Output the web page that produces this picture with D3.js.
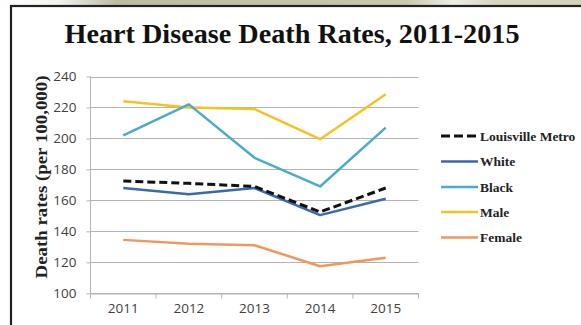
<!DOCTYPE html>
<html><head><meta charset="utf-8">
<script src="https://cdn.jsdelivr.net/npm/d3@7"></script>
<style>html,body{margin:0;padding:0;background:#fff;}svg{display:block;}</style>
</head><body>
<svg id="c" width="581" height="325"></svg>
<script>
const years = ["2011","2012","2013","2014","2015"];
const louisville = [172.5, 171, 169, 152.5, 168];
const white = [168, 164, 168, 150.5, 161];
const black = [202, 222, 187.5, 169, 207];
const male = [224, 220, 219, 199.5, 228.5];
const female = [134.5, 132, 131, 117.5, 123];
const yTicks = [100,120,140,160,180,200,220,240];
const seriesNames = ["Louisville Metro","White","Black","Male","Female"];
const seriesColors = ["#111111","#3a6aab","#4bacc6","#f5c21f","#f0985a"];
const seriesData = [louisville, white, black, male, female];

const svg = d3.select("#c");
const defs = svg.append("defs");
const g = defs.append("linearGradient").attr("id","bg");
g.append("stop").attr("offset","0").attr("stop-color","#ffffff");
g.append("stop").attr("offset","0.1").attr("stop-color","#f4f4ee");
g.append("stop").attr("offset","0.2").attr("stop-color","#bcbca4");
g.append("stop").attr("offset","0.7").attr("stop-color","#c9c8ae");
g.append("stop").attr("offset","0.78").attr("stop-color","#eeeee6");
g.append("stop").attr("offset","0.85").attr("stop-color","#d8d6c0");
g.append("stop").attr("offset","1").attr("stop-color","#d4d2bc");
svg.append("rect").attr("x",0).attr("y",0).attr("width",581).attr("height",6).attr("fill","url(#bg)");
svg.append("rect").attr("x",11).attr("y",6).attr("width",575).attr("height",330)
  .attr("fill","#fff").attr("stroke","#222").attr("stroke-width",2.2);

const x = d3.scaleBand().domain(years).range([90.5, 418.5]);
const y = d3.scaleLinear().domain([100,240]).range([293.3, 76.5]);

svg.append("g").selectAll("line").data(yTicks).join("line")
  .attr("x1",90.5).attr("x2",418.5)
  .attr("y1",d=>Math.round(y(d))+0.5).attr("y2",d=>Math.round(y(d))+0.5)
  .attr("stroke","#b4b4b4").attr("stroke-width",1);

const ya = svg.append("g").attr("transform","translate(90.5,0)")
  .call(d3.axisLeft(y).tickValues(yTicks).tickSize(4).tickPadding(10));
ya.select(".domain").attr("stroke","#b4b4b4").attr("d","M0,"+y(240)+"V"+y(100)+"H0");
ya.selectAll(".tick line").attr("stroke","#b4b4b4");
ya.selectAll("text").attr("font-family","Open Sans, sans-serif").attr("font-size",13.5).attr("fill","#404040");

const xa = svg.append("g").attr("transform","translate(0,"+(Math.round(y(100))+0.5)+")")
  .call(d3.axisBottom(x).tickSize(0).tickPadding(10));
xa.select(".domain").attr("stroke","#b4b4b4");
xa.selectAll("text").attr("font-family","Open Sans, sans-serif").attr("font-size",13.5).attr("fill","#404040");
xa.append("g").selectAll("line").data(years.concat(["end"])).join("line")
  .attr("x1",(d,i)=>i<years.length? x(d) : x.range()[1])
  .attr("x2",(d,i)=>i<years.length? x(d) : x.range()[1])
  .attr("y1",0).attr("y2",5).attr("stroke","#b4b4b4");

const line = d3.line().x((d,i)=>x(years[i])+x.bandwidth()/2).y(d=>y(d));
[4,3,2,1,0].forEach(k=>{
  svg.append("path").attr("d",line(seriesData[k])).attr("fill","none")
    .attr("stroke",seriesColors[k]).attr("stroke-width",k===0?3:2.5)
    .attr("stroke-dasharray",k===0?"8,4":null)
    .attr("stroke-linejoin","round");
});

const legY = [136, 161.5, 187, 212, 237.5];
seriesNames.forEach((n,i)=>{
  svg.append("line").attr("x1",441).attr("x2",478).attr("y1",legY[i]).attr("y2",legY[i])
    .attr("stroke",seriesColors[i]).attr("stroke-width",i===0?3:2.5)
    .attr("stroke-dasharray",i===0?"9,4":null);
  svg.append("text").attr("x",480).attr("y",legY[i]+4.5).text(n)
    .attr("font-family","Liberation Serif, serif").attr("font-weight","bold")
    .attr("font-size",13.5).attr("fill","#222");
});

svg.append("text").attr("x",292).attr("y",43).attr("text-anchor","middle")
  .attr("font-family","Liberation Serif, serif").attr("font-weight","bold").attr("font-size",27)
  .attr("textLength",455).attr("lengthAdjust","spacingAndGlyphs")
  .attr("fill","#111").text("Heart Disease Death Rates, 2011-2015");

svg.append("text").attr("transform","translate(47,177) rotate(-90)").attr("text-anchor","middle")
  .attr("font-family","Liberation Serif, serif").attr("font-weight","bold").attr("font-size",17)
  .attr("textLength",203).attr("lengthAdjust","spacingAndGlyphs")
  .attr("fill","#222").text("Death rates (per 100,000)");
</script>
</body></html>
